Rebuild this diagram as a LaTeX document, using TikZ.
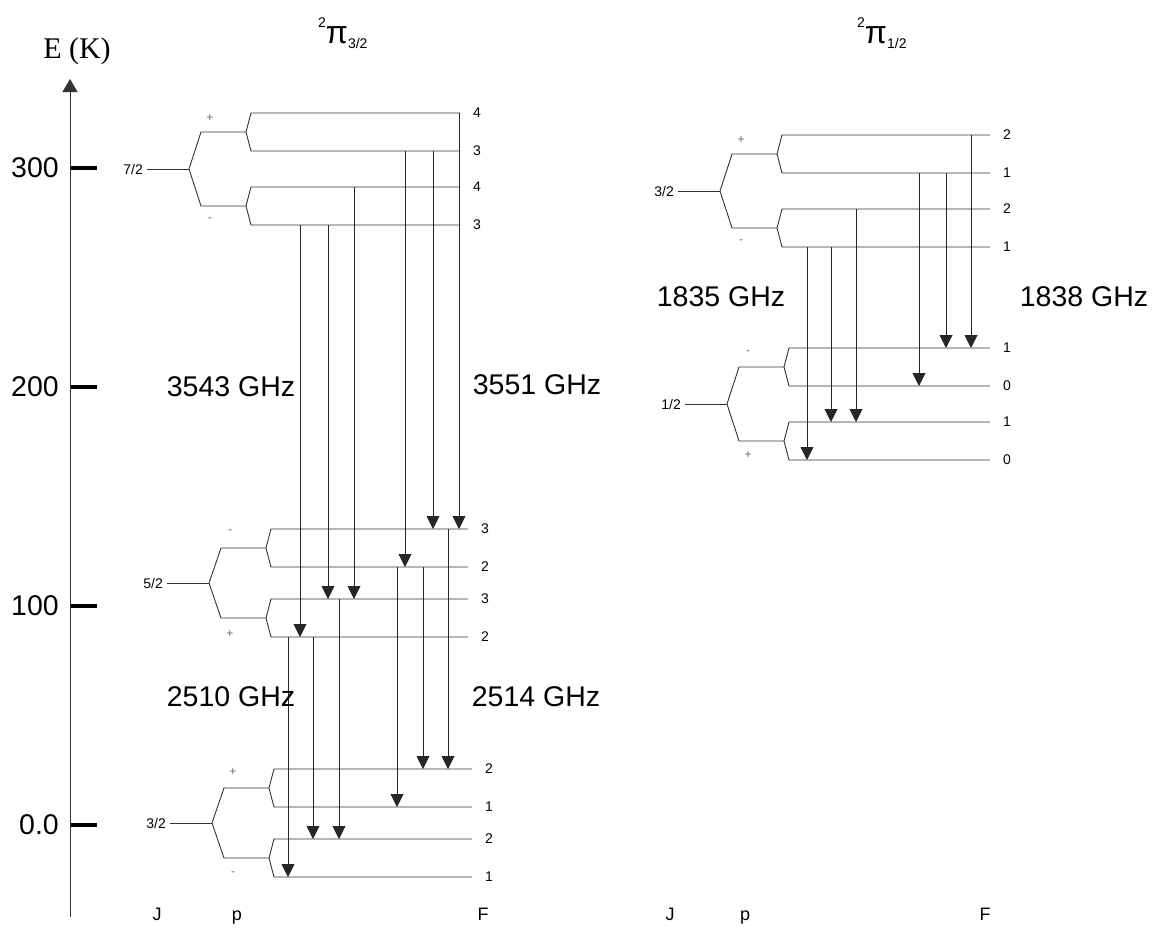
\documentclass[tikz,border=0pt]{standalone}
\usepackage{fontspec}
\setmainfont{Liberation Sans}
\newfontfamily\serifK{Liberation Serif}
\usetikzlibrary{arrows.meta}

\begin{document}
\begin{tikzpicture}[x=1pt,y=-1pt,
    lvl/.style={black!80,line width=0.9pt},
    trans/.style={black!85,line width=0.9pt,-{Triangle[length=13pt,width=13pt]}},
    axis/.style={black!80,line width=0.9pt,-{Triangle[length=13pt,width=15pt]}},
    tick/.style={line width=4pt},
    big/.style={font=\fontsize{28.5}{30}\selectfont},
    flab/.style={font=\fontsize{14}{16}\selectfont,inner sep=0pt,anchor=west},
    jlab/.style={font=\fontsize{14}{16}\selectfont,inner sep=0pt,anchor=east},
    plab/.style={font=\fontsize{12}{14}\selectfont,black!60,inner sep=0pt},
    bot/.style={font=\fontsize{18}{20}\selectfont,inner sep=0pt,anchor=base}]
\useasboundingbox (0,0) rectangle (1153,929);

% energy axis
\coordinate (ebot) at (70,917);
\coordinate (etop) at (70,79);
\draw[axis] (ebot) -- (etop);
\node[font=\serifK\fontsize{30}{32}\selectfont] (eK) at (77,51) {E (K)};
\foreach \y/\t [count=\i] in {168/300,387/200,606/100,825/0.0}{
  \draw[tick] (71,\y) -- (97,\y);
  \node[big,anchor=east,inner sep=0pt] (tk\i) at (59,\y) {\t};
}

% titles
\node[anchor=base west,inner sep=0pt] (piA) at (318,43)
  {\fontsize{14}{16}\selectfont\raisebox{16pt}{2}\fontsize{32}{32}\selectfont π\fontsize{14}{16}\selectfont\raisebox{-5pt}{3/2}};
\node[anchor=base west,inner sep=0pt] (piB) at (857,43)
  {\fontsize{14}{16}\selectfont\raisebox{16pt}{2}\fontsize{32}{32}\selectfont π\fontsize{14}{16}\selectfont\raisebox{-5pt}{1/2}};

% J levels, parity doublets, F sublevels
\foreach \n/\xv/\yv/\dy/\xe/\J/\pu/\pd/\fa/\fb/\fc/\fd in {
    A/189/169/37/460/{7/2}/+/-/4/3/4/3,
    B/209/583/35/468/{5/2}/-/+/3/2/3/2,
    C/212/823/35/472/{3/2}/+/-/2/1/2/1,
    D/720/191/37/990/{3/2}/+/-/2/1/2/1,
    E/727/404/37/990/{1/2}/-/+/1/0/1/0}{
  \coordinate (\n1) at (\xv+62,\yv-\dy-19);
  \coordinate (\n2) at (\xv+62,\yv-\dy+19);
  \coordinate (\n3) at (\xv+62,\yv+\dy-19);
  \coordinate (\n4) at (\xv+62,\yv+\dy+19);
  \draw[lvl] (\xv-42,\yv) -- (\xv,\yv);
  \draw[lvl] (\xv+57,\yv-\dy) -- (\xv+12,\yv-\dy) -- (\xv,\yv) -- (\xv+12,\yv+\dy) -- (\xv+57,\yv+\dy);
  \draw[lvl] (\xe,\yv-\dy-19) -- (\n1) -- (\xv+57,\yv-\dy) -- (\n2) -- (\xe,\yv-\dy+19);
  \draw[lvl] (\xe,\yv+\dy-19) -- (\n3) -- (\xv+57,\yv+\dy) -- (\n4) -- (\xe,\yv+\dy+19);
  \node[jlab] (j\n) at (\xv-46,\yv) {\J};
  \node[plab] (pu\n) at (\xv+21,\yv-51) {\pu};
  \node[plab] (pd\n) at (\xv+21,\yv+51) {\pd};
  \node[flab] (f\n1) at (\xe+13,\yv-\dy-19) {\fa};
  \node[flab] (f\n2) at (\xe+13,\yv-\dy+19) {\fb};
  \node[flab] (f\n3) at (\xe+13,\yv+\dy-19) {\fc};
  \node[flab] (f\n4) at (\xe+13,\yv+\dy+19) {\fd};
}

% transitions
\foreach \x/\a/\b in {459/A1/B1,433/A2/B1,405/A2/B2,354/A3/B3,328/A4/B3,300/A4/B4,
    448/B1/C1,423/B2/C1,397/B2/C2,339/B3/C3,313/B4/C3,288/B4/C4,
    971/D1/E1,946/D2/E1,919/D2/E2,856/D3/E3,831/D4/E3,807/D4/E4}
  \draw[trans] (\a -| \x,0) -- (\b -| \x,0);

\node[big] (g3543) at (231,387) {3543 GHz};
\node[big] (g3551) at (537,385) {3551 GHz};
\node[big] (g2510) at (231,697) {2510 GHz};
\node[big] (g2514) at (536,697) {2514 GHz};
\node[big] (g1835) at (721,297) {1835 GHz};
\node[big] (g1838) at (1084,297) {1838 GHz};

% quantum number headings
\node[bot] (jA) at (157,920) {J};
\node[bot] (pA) at (237,920) {p};
\node[bot] (fA) at (483,920) {F};
\node[bot] (jB) at (670,920) {J};
\node[bot] (pB) at (745,920) {p};
\node[bot] (fB) at (985,920) {F};

\end{tikzpicture}
\end{document}
